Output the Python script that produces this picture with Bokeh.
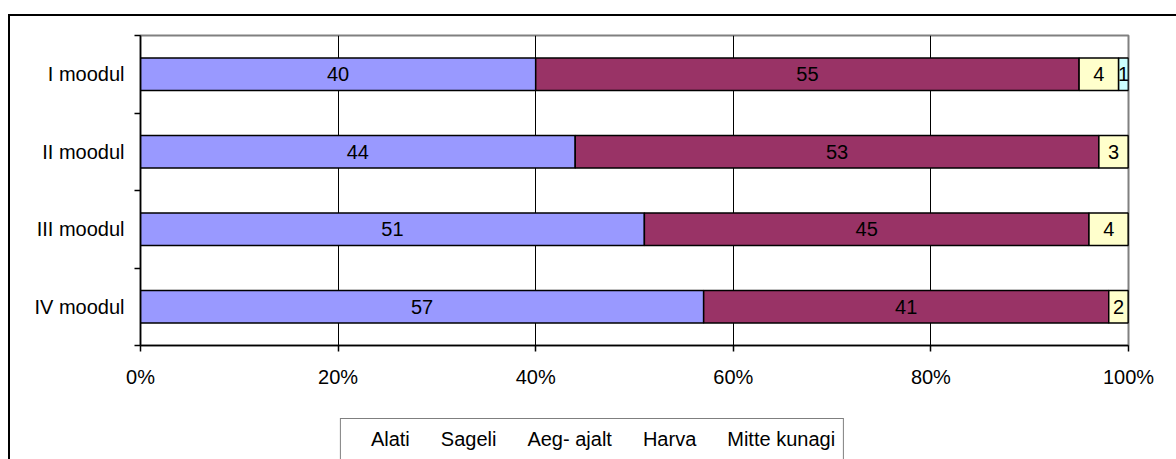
import numpy as np
from bokeh.plotting import figure
from bokeh.layouts import column
from bokeh.models import (ColumnDataSource, FixedTicker, Range1d, Legend, LegendItem)
from bokeh.core.properties import value
from bokeh.embed import file_html
from bokeh.resources import INLINE

categories = ["I moodul", "II moodul", "III moodul", "IV moodul"]
series = ["Alati", "Sageli", "Aeg- ajalt", "Harva", "Mitte kunagi"]
alati = [40, 44, 51, 57]
sageli = [55, 53, 45, 41]
aeg_ajalt = [4, 3, 4, 2]
harva = [1, 0, 0, 0]
mitte_kunagi = [0, 0, 0, 0]
colors = ["#9999FF", "#993366", "#FFFFCC", "#CCFFFF", "#660066"]
x_ticks = [0, 20, 40, 60, 80, 100]

FONT = "Liberation Sans"
n = len(categories)
ys = [n - 0.5 - i for i in range(n)]

p = figure(frame_width=988, frame_height=310, output_backend="svg", toolbar_location=None,
           x_range=Range1d(0, 100), y_range=Range1d(0, n),
           min_border_left=132, min_border_right=48, min_border_top=21,
           min_border_bottom=73)
p.margin = 0
p.background_fill_color = "white"
p.border_fill_color = None
p.border_fill_alpha = 0
p.outline_line_color = "#808080"
p.outline_line_width = 2

vals = [alati, sageli, aeg_ajalt, harva, mitte_kunagi]
left = np.zeros(n)
label_x, label_y, label_t = [], [], []
for name, v, c in zip(series, vals, colors):
    v = np.array(v, dtype=float)
    src = ColumnDataSource(dict(y=ys, left=left.copy(), right=left + v))
    p.hbar(y="y", left="left", right="right", height=0.42, source=src,
           fill_color=c, line_color="black", line_width=1.5)
    for i in range(n):
        if v[i] > 0:
            label_x.append(left[i] + v[i] / 2)
            label_y.append(ys[i])
            label_t.append(str(int(v[i])))
    left = left + v

p.text(x=label_x, y=label_y, text=label_t, text_font=value(FONT),
       text_font_size="20px", text_align="center", text_baseline="middle",
       text_color="black")

# grid
p.xgrid.ticker = FixedTicker(ticks=x_ticks[1:-1])
p.xgrid.grid_line_color = "black"
p.xgrid.grid_line_width = 1
p.ygrid.visible = False

# x axis
p.xaxis.ticker = FixedTicker(ticks=x_ticks)
p.xaxis.major_label_overrides = {t: f"{t}%" for t in x_ticks}
p.xaxis.axis_line_color = "black"
p.xaxis.axis_line_width = 1.5
p.xaxis.major_tick_out = 6
p.xaxis.major_tick_in = 0
p.xaxis.major_tick_line_color = "black"
p.xaxis.major_tick_line_width = 1.5
p.xaxis.minor_tick_line_color = None
p.xaxis.major_label_text_font = FONT
p.xaxis.major_label_text_font_size = "20px"
p.xaxis.major_label_text_color = "black"
p.xaxis.major_label_standoff = 14

# y axis
p.yaxis.ticker = FixedTicker(ticks=ys, minor_ticks=list(range(n + 1)))
p.yaxis.major_label_overrides = {y: c for y, c in zip(ys, categories)}
p.yaxis.axis_line_color = "black"
p.yaxis.axis_line_width = 1.5
p.yaxis.major_tick_out = 0
p.yaxis.major_tick_in = 0
p.yaxis.major_tick_line_color = None
p.yaxis.minor_tick_out = 6
p.yaxis.minor_tick_in = 0
p.yaxis.minor_tick_line_color = "black"
p.yaxis.minor_tick_line_width = 1.5
p.yaxis.major_label_text_font = FONT
p.yaxis.major_label_text_font_size = "20px"
p.yaxis.major_label_text_color = "black"
p.yaxis.major_label_standoff = 10

# legend strip below the chart (own figure so the legend is not clipped)
p2 = figure(frame_width=1090, frame_height=41, output_backend="svg", toolbar_location=None,
            x_range=Range1d(0, 1), y_range=Range1d(0, 1),
            x_axis_type=None, y_axis_type=None,
            min_border_left=78, min_border_right=0, min_border_top=0, min_border_bottom=0)
p2.margin = 0
p2.outline_line_color = None
p2.background_fill_color = None
p2.border_fill_color = None
p2.border_fill_alpha = 0
p2.xgrid.visible = False
p2.ygrid.visible = False

leg_renderers = []
for c in colors:
    leg_renderers.append(p2.hbar(y=[], left=[], right=[], height=0.5,
                                 fill_color=c, line_color="black", line_width=1.5))

legend = Legend(items=[LegendItem(label=s, renderers=[r]) for s, r in zip(series, leg_renderers)],
                orientation="horizontal", location="top_center",
                border_line_color="black", border_line_width=1.5,
                padding=8, spacing=9, label_standoff=10,
                glyph_width=12, glyph_height=12, label_height=24,
                label_text_font=FONT, label_text_font_size="20px",
                label_text_color="black", margin=0,
                background_fill_color="white", background_fill_alpha=1)
p2.add_layout(legend)

layout = column(p, p2, spacing=0)
layout.margin = (14, 0, 0, 8)
layout.styles = {"box-shadow": "inset 2px 2px 0 0 black"}

open("out.html", "w").write(file_html(layout, INLINE))
